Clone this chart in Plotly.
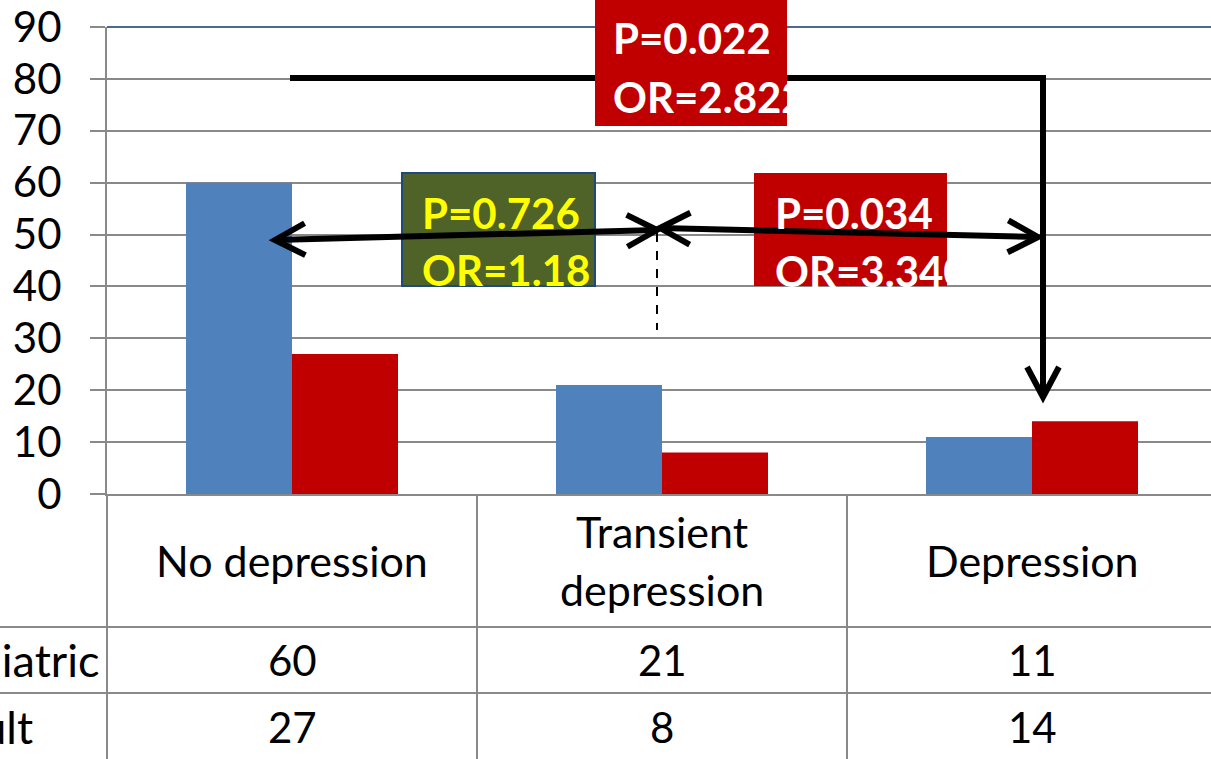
import math
import plotly.graph_objects as go

# ---------------- data ----------------
categories = ["No depression", "Transient<br>depression", "Depression"]
series_names = ["Pediatric", "Adult"]
pediatric = [60, 21, 11]
adult = [27, 8, 14]
y_ticks = [0, 10, 20, 30, 40, 50, 60, 70, 80, 90]
stat_boxes = [
    ("P=0.726", "OR=1.18"),
    ("P=0.034", "OR=3.340"),
    ("P=0.022", "OR=2.822"),
]

# ---------------- style ----------------
BLUE = "#4F81BD"
RED = "#C00000"
OLIVE = "#4F6228"
YELLOW = "#FFFF00"
GRID = "#898989"
TOPLINE = "#4A6A94"
FONT = "Lato"

W, H = 1211, 759
ML, MT, MB = 107, 27, 265
PW = W - ML
PH = H - MT - MB
CAT_PX = 370
XMIN = -0.5
XMAX = XMIN + PW / CAT_PX
YMAX = 90


def P(xpx, ypx):
    """pixel -> paper coords"""
    return (xpx - ML) / PW, (H - MB - ypx) / PH


fig = go.Figure()
fig.add_trace(go.Bar(x=list(range(len(categories))), y=pediatric, name=series_names[0],
                     marker=dict(color=BLUE, line=dict(width=0))))
fig.add_trace(go.Bar(x=list(range(len(categories))), y=adult, name=series_names[1],
                     marker=dict(color=RED, line=dict(width=0))))

shapes = []
annotations = []


def line(x0, y0, x1, y1, color="black", width=6, dash=None):
    a = P(x0, y0)
    b = P(x1, y1)
    d = dict(type="line", xref="paper", yref="paper", x0=a[0], y0=a[1], x1=b[0], y1=b[1],
             line=dict(color=color, width=width))
    if dash:
        d["line"]["dash"] = dash
    shapes.append(d)


def rect(x0, y0, x1, y1, fill, lc=None, lw=0):
    a = P(x0, y0)
    b = P(x1, y1)
    shapes.append(dict(type="rect", xref="paper", yref="paper", x0=a[0], y0=a[1], x1=b[0], y1=b[1],
                       fillcolor=fill, line=dict(color=lc or fill, width=lw)))


def chevron(tx, ty, fx, fy, L=34, ang=28):
    # tip (tx,ty); line comes from (fx,fy)
    dx, dy = tx - fx, ty - fy
    n = math.hypot(dx, dy)
    dx, dy = dx / n, dy / n
    pts = []
    for s in (1, -1):
        a = math.radians(ang * s)
        rx = dx * math.cos(a) - dy * math.sin(a)
        ry = dx * math.sin(a) + dy * math.cos(a)
        pts.append((tx - L * rx, ty - L * ry))
    p1, t, p2 = P(*pts[0]), P(tx, ty), P(*pts[1])
    path = f"M{p1[0]},{p1[1]} L{t[0]},{t[1]} L{p2[0]},{p2[1]}"
    shapes.append(dict(type="path", xref="paper", yref="paper", path=path,
                       line=dict(color="black", width=6)))


# top border line at 90
line(ML, MT, W, MT, color=TOPLINE, width=2)
# table lines
line(ML, H - MB, ML, H, color=GRID, width=2)
line(477, H - MB, 477, H, color=GRID, width=2)
line(847, H - MB, 847, H, color=GRID, width=2)
line(0, 627, W, 627, color=GRID, width=2)
line(0, 693, W, 693, color=GRID, width=2)

# big L connector with down arrow
line(290, 78, 1043, 78)
line(1043, 75, 1043, 397)
chevron(1043, 397, 1043, 300)
# red box top
rect(595, -5, 787, 126, RED)
# olive box and red box 2
rect(402, 173, 595, 286, OLIVE, lc="#1F497D", lw=2)
rect(754, 173, 947, 286, RED)
# double arrows
line(275, 240, 657, 230, width=6)
chevron(275, 240, 657, 230)
chevron(657, 230, 275, 240)
line(660, 228, 1038, 237, width=6)
chevron(660, 228, 1038, 237)
chevron(1038, 237, 660, 228)
# dashed
line(657, 233, 657, 330, width=2, dash="dash")


def text(xpx, ypx, s, size=42, color="black", bold=False, xanchor="left", width=None):
    x, y = P(xpx, ypx)
    d = dict(xref="paper", yref="paper", x=x, y=y, text=f"<b>{s}</b>" if bold else s,
             showarrow=False, xanchor=xanchor, yanchor="middle", align=xanchor if xanchor != "center" else "center",
             font=dict(family=FONT, size=size, color=color), borderpad=0, borderwidth=0)
    if width:
        d["width"] = width
    annotations.append(d)


# stats text
text(422, 213, stat_boxes[0][0], size=42, color=YELLOW, bold=True)
text(422, 270, stat_boxes[0][1], size=42, color=YELLOW, bold=True)
text(775, 213, stat_boxes[1][0], size=42, color="white", bold=True)
text(775, 271, stat_boxes[1][1], size=42, color="white", bold=True, width=947 - 775)
text(613, 38, stat_boxes[2][0], size=42, color="white", bold=True)
text(613, 97, stat_boxes[2][1], size=42, color="white", bold=True, width=787 - 613)

# table text
for i, c in enumerate(categories):
    cx = ML + (i - XMIN) * CAT_PX
    if "<br>" in c:
        l1, l2 = c.split("<br>")
        text(cx, 531, l1, size=43, xanchor="center")
        text(cx, 589, l2, size=43, xanchor="center")
    else:
        text(cx, 560, c, size=43, xanchor="center")
    text(cx, 660, str(pediatric[i]), xanchor="center")
    text(cx, 727, str(adult[i]), xanchor="center")

text(99, 660, series_names[0], size=45, xanchor="right")
text(33, 727, series_names[1], size=45, xanchor="right")

fig.update_layout(
    width=W, height=H, autosize=False,
    margin=dict(l=ML, r=0, t=MT, b=MB, pad=0),
    paper_bgcolor="white", plot_bgcolor="white",
    showlegend=False,
    barmode="group", bargap=0.427, bargroupgap=0,
    font=dict(family=FONT, size=42, color="black"),
    xaxis=dict(range=[XMIN, XMAX], showticklabels=False, showgrid=False, zeroline=False,
               showline=True, linecolor=GRID, linewidth=2, ticks=""),
    yaxis=dict(range=[0, YMAX], tickvals=y_ticks, showgrid=True, gridcolor=GRID, gridwidth=2,
               zeroline=False, showline=True, linecolor=GRID, linewidth=2,
               ticks="outside", ticklen=15, tickwidth=2,
               tickcolor=GRID, ticklabelstandoff=20,
               tickfont=dict(family=FONT, size=42, color="black")),
    shapes=shapes,
    annotations=annotations,
)

fig.write_html("out.html")
